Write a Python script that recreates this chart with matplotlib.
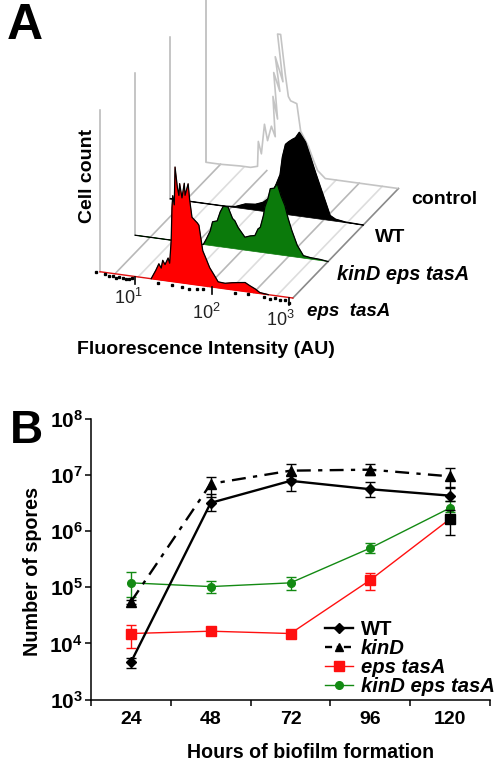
import matplotlib
matplotlib.use("Agg")
import matplotlib.pyplot as plt
from matplotlib.transforms import Affine2D

plt.rcParams["font.family"] = ["Liberation Sans", "DejaVu Sans"]
plt.rcParams["mathtext.fontset"] = "custom"
plt.rcParams["mathtext.rm"] = "Liberation Sans"
plt.rcParams["mathtext.bf"] = "Liberation Sans:bold"

# panel A, histograms: log10 intensity and cell count
start_log = 0.545
end_log = 3.05
axis_height = 162

control_log = [0.56, 0.74, 1.0, 1.13, 1.22, 1.23, 1.27, 1.31, 1.35, 1.40, 1.45, 1.42, 1.48, 1.43, 1.51, 1.45, 1.55,
               1.48, 1.52, 1.58, 1.62, 1.65, 1.73, 1.78, 1.83, 1.88, 1.95, 2.0, 2.1, 3.04]
control_count = [0, 0, 1, 1, 3, 28, 16, 46, 30, 45, 35, 75, 53, 99, 81, 115, 91,
                 138, 138, 99, 77, 73, 71, 44, 37, 30, 16, 7, 0, 0]

wt_log = [0.545, 1.26, 1.39, 1.52, 1.65, 1.75, 1.84, 1.92, 1.97, 2.0, 2.04, 2.08, 2.13, 2.17, 2.22, 2.26, 2.30, 2.36,
          2.43, 2.49, 2.56, 2.62, 2.69, 2.82, 3.05]
wt_count = [0, 0, 1, 5, 6, 9, 15, 29, 39, 57, 70, 73, 76, 78, 84, 79.5, 75, 62,
            46, 33, 18, 5, 2, 0.5, 0]

triple_log = [0.545, 1.43, 1.47, 1.52, 1.55, 1.61, 1.65, 1.69, 1.75, 1.81, 1.84, 1.88, 1.97, 2.04, 2.10, 2.14, 2.17,
              2.21, 2.23, 2.27, 2.30, 2.35, 2.39, 2.44, 2.49, 2.53, 2.58, 2.65, 2.73, 2.82, 2.95, 3.05]
triple_count = [0, 0, 6, 14.5, 24, 25.5, 35, 41, 41, 30, 28, 22, 13, 15, 16, 23, 25,
                37, 46, 55, 65, 66, 71, 59, 50, 38, 26, 12, 2.5, 1.5, 1, 0]

eps_log = [1.21, 1.27, 1.31, 1.34, 1.36, 1.39, 1.43, 1.45, 1.47, 1.48, 1.49, 1.51, 1.52, 1.55, 1.57, 1.58, 1.61, 1.64,
           1.65, 1.69, 1.71, 1.74, 1.81, 1.83, 1.86, 1.88, 1.92, 1.97, 2.03, 2.08, 2.17, 2.26, 2.34, 2.43, 2.49, 2.56,
           2.62, 2.73]
eps_count = [0, 9, 16, 12, 20, 16, 23, 18, 41, 74, 86, 77, 115, 95, 87, 99, 85, 100,
             88, 100, 84, 67, 62, 60, 45, 35, 28, 19, 12, 6, 5.5, 7, 8, 9, 6.5, 4,
             1, 0]

noise_log = [0.49, 0.61, 0.66, 0.71, 0.75, 0.79, 0.84, 0.88, 0.92, 0.96, 1.30, 1.48, 1.61, 1.70, 1.80, 1.88, 2.30,
             2.47, 2.68, 2.75, 2.82, 2.88, 2.95, 3.0]
noise_count = [-1, -2, -3, -3, -4, -3, -3, -4, -3, -2, -3, -3, -4, -5, -4, -3, -3,
               -2, -3, -4, -2, -4, -3, -5]

floor_log = [0.74, 1.04, 1.34, 1.64, 1.94, 2.24, 2.54, 2.84]
floor_colors = ["#dddddd", "#b8b8b8"]
decade_log = [1, 2, 3]
decade_labels = ["10$^{1}$", "10$^{2}$", "10$^{3}$"]

# panel B, spores
hours = [24, 48, 72, 96, 120]
wt = [4.6e3, 3.2e6, 7.9e6, 5.6e6, 4.3e6]
wt_lo = [3.7e3, 2.3e6, 5.2e6, 4.1e6, 3.4e6]
wt_hi = [5.6e3, 4.6e6, 1.0e7, 7.6e6, 6.2e6]
kind = [5.5e4, 7.0e6, 1.2e7, 1.25e7, 9.5e6]
kind_lo = [5.0e4, 4.1e6, 8.5e6, 1.0e7, 5.9e6]
kind_hi = [6.0e4, 9.3e6, 1.6e7, 1.6e7, 1.35e7]
eps = [1.5e4, 1.65e4, 1.5e4, 1.35e5, 1.66e6]
eps_lo = [8.3e3, 1.5e4, 1.35e4, 9.0e4, 8.5e5]
eps_hi = [2.1e4, 1.8e4, 1.65e4, 1.8e5, 2.4e6]
triple = [1.2e5, 1.03e5, 1.2e5, 5.0e5, 2.6e6]
triple_lo = [6.8e4, 8.0e4, 9.0e4, 4.1e5, 2.2e6]
triple_hi = [1.9e5, 1.3e5, 1.5e5, 6.2e5, 3.4e6]
y_ticks = [1e3, 1e4, 1e5, 1e6, 1e7, 1e8]
y_labels = [r"$\mathbf{10^{3}}$", r"$\mathbf{10^{4}}$", r"$\mathbf{10^{5}}$",
            r"$\mathbf{10^{6}}$", r"$\mathbf{10^{7}}$", r"$\mathbf{10^{8}}$"]
band_edges = [12, 36, 60, 84, 108, 132]

fig = plt.figure(figsize=(5, 7.67), dpi=100)

# whole figure in pixels, panel A lives here
ax_a = fig.add_axes([0, 0, 1, 1])
ax_a.set_xlim(0, 500)
ax_a.set_ylim(767, 0)
ax_a.axis("off")


def depth_tr(depth):
    # skewed view: log intensity runs right, each trace sits further back
    return Affine2D.from_values(77, 10.5, 0, -1, 58 + 35.2 * depth, 266 - 36.5 * depth) + ax_a.transData


# floor stripes and right edge
for i, lg in enumerate(floor_log):
    ax_a.plot([58 + 77 * lg, 58 + 77 * lg + 105.6], [266 + 10.5 * lg, 266 + 10.5 * lg - 109.5],
              color=floor_colors[(i + 1) % 2], lw=1.2, zorder=1)
ax_a.plot([58 + 77 * end_log, 58 + 77 * end_log + 105.6], [266 + 10.5 * end_log, 266 + 10.5 * end_log - 109.5],
          color="#8a8a8a", lw=1.2, zorder=1)

# cell count axes
for depth in range(4):
    ax_a.plot([start_log, start_log], [0, axis_height], color="#b5b5b5", lw=1.1, transform=depth_tr(depth), zorder=2)

ax_a.plot(control_log, control_count, color="#c4c4c4", lw=1.2, transform=depth_tr(3), zorder=3)

ax_a.fill(wt_log, wt_count, color="black", lw=0.5, transform=depth_tr(2), zorder=4)
ax_a.plot(wt_log, wt_count, color="black", lw=1.0, transform=depth_tr(2), zorder=4)

ax_a.fill(triple_log, triple_count, color="#0b7a0b", lw=0.5, transform=depth_tr(1), zorder=5)
ax_a.plot(triple_log, triple_count, color="black", lw=0.9, transform=depth_tr(1), zorder=5)

ax_a.plot([start_log, end_log], [0, 0], color="#e01010", lw=1.0, transform=depth_tr(0), zorder=6)
ax_a.fill(eps_log, eps_count, color="#ff0000", lw=0.5, transform=depth_tr(0), zorder=6)
ax_a.plot(eps_log, eps_count, color="black", lw=0.9, transform=depth_tr(0), zorder=6)
ax_a.plot(noise_log, noise_count, ls="none", marker="s", ms=1.4, color="black", transform=depth_tr(0), zorder=7)

for lg in decade_log:
    ax_a.plot([lg, lg], [0, -7], color="black", lw=1.2, transform=depth_tr(0), zorder=7)

ax_a.text(128, 298, decade_labels[0], fontsize=13, ha="center", va="center", color="#222222")
ax_a.text(206, 313, decade_labels[1], fontsize=13, ha="center", va="center", color="#222222")
ax_a.text(280, 320, decade_labels[2], fontsize=13, ha="center", va="center", color="#222222")

ax_a.text(25, 26, "A", fontsize=36, fontweight="bold", ha="center", va="center")
ax_a.text(26, 431, "B", fontsize=33, fontweight="bold", ha="center", va="center")
ax_a.text(87, 176, "Cell count", fontsize=14, fontweight="bold", rotation=90, ha="center", va="center")
ax_a.text(206, 349, "Fluorescence Intensity (AU)", fontsize=14, fontweight="bold", ha="center", va="center")
ax_a.text(411, 200, "control", fontsize=14, fontweight="bold", ha="left", va="center")
ax_a.text(375, 237, "WT", fontsize=14, fontweight="bold", ha="left", va="center")
ax_a.text(337, 274, "kinD eps tasA", fontsize=14.4, fontweight="bold", style="italic", ha="left", va="center")
ax_a.text(307, 311, "eps  tasA", fontsize=13.5, fontweight="bold", style="italic", ha="left", va="center")

# panel B
ax_b = fig.add_axes([91 / 500, 1 - 699.5 / 767, 399 / 500, 280.5 / 767])
ax_b.set_yscale("log")
ax_b.set_xlim(band_edges[0], band_edges[-1])
ax_b.set_ylim(1e3, 1e8)
ax_b.patch.set_alpha(0)


def spread(vals, lo, hi):
    return [[v - l for v, l in zip(vals, lo)], [h - v for v, h in zip(vals, hi)]]


ax_b.errorbar(hours, triple, yerr=spread(triple, triple_lo, triple_hi), color="#138a13", lw=1.0, marker="o", ms=5.5,
              elinewidth=1.0, capsize=3.5, capthick=1.0, label="kinD eps tasA", zorder=3)
ax_b.errorbar(hours[:4], eps[:4], yerr=spread(eps[:4], eps_lo[:4], eps_hi[:4]), color="#ff1010", lw=1.0, marker="s",
              ms=6.5, elinewidth=1.0, capsize=3.5, capthick=1.0, zorder=3)
ax_b.plot(hours[3:], eps[3:], color="#ff1010", lw=1.0, zorder=3)
ax_b.errorbar(hours[4:], eps[4:], yerr=spread(eps[4:], eps_lo[4:], eps_hi[4:]), color="black", marker="s", ms=6.5,
              elinewidth=1.0, capsize=3.5, capthick=1.0, zorder=6)
ax_b.errorbar(hours, kind, yerr=spread(kind, kind_lo, kind_hi), color="black", lw=1.7, ls=(0, (5.9, 3.1, 1.8, 3.1)),
              marker="^", ms=6.5, elinewidth=1.0, capsize=3.5, capthick=1.0, zorder=4)
ax_b.errorbar(hours, wt, yerr=spread(wt, wt_lo, wt_hi), color="black", lw=1.7, marker="D", ms=5,
              elinewidth=1.0, capsize=3.5, capthick=1.0, zorder=5)

for side in ["top", "right"]:
    ax_b.spines[side].set_visible(False)
for side in ["left", "bottom"]:
    ax_b.spines[side].set_linewidth(1.1)

ax_b.set_yticks(y_ticks)
ax_b.set_yticklabels(y_labels, fontsize=15)
ax_b.minorticks_off()
ax_b.tick_params(axis="y", length=4, width=1.1, pad=2)
ax_b.set_xticks(band_edges)
ax_b.set_xticklabels([""] * len(band_edges))
ax_b.tick_params(axis="x", length=4, width=1.1)
ax_b.set_xticks(hours, minor=True)
ax_b.set_xticklabels([str(h) for h in hours], minor=True, fontsize=14, fontweight="bold")
ax_b.tick_params(axis="x", which="minor", length=0, pad=8)

ax_a.text(33, 571, "Number of spores", fontsize=14.2, fontweight="bold", rotation=90, ha="center", va="center")
ax_a.text(311, 752, "Hours of biofilm formation", fontsize=14.1, fontweight="bold", ha="center", va="center")

# legend rebuilt from proxy lines so order matches the figure
h_wt, = ax_b.plot([], [], color="black", lw=1.7, marker="D", ms=5)
h_kind, = ax_b.plot([], [], color="black", lw=1.7, ls=(0, (3, 2, 1, 2)), marker="^", ms=6)
h_eps, = ax_b.plot([], [], color="#ff1010", lw=1.0, marker="s", ms=6.5)
h_triple, = ax_b.plot([], [], color="#138a13", lw=1.0, marker="o", ms=5.5)
leg = ax_b.legend([h_wt, h_kind, h_eps, h_triple], ["WT", "kinD", "eps tasA", "kinD eps tasA"],
                  loc="lower right", bbox_to_anchor=(1.0125, 0.012), frameon=False, fontsize=14.6,
                  handlelength=1.4, handletextpad=0.4, labelspacing=0.0, borderpad=0, borderaxespad=0)
for i, t in enumerate(leg.get_texts()):
    t.set_fontweight("bold")
    if i > 0:
        t.set_fontstyle("italic")

fig.savefig("out.png", dpi=100)
